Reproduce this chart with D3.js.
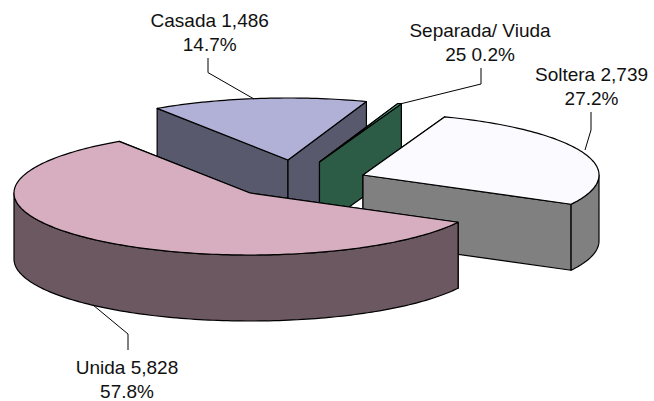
<!DOCTYPE html>
<html>
<head>
<meta charset="utf-8">
<script src="https://cdn.jsdelivr.net/npm/d3@7"></script>
<style>
  html, body { margin: 0; padding: 0; background: #fff; }
  svg { display: block; }
</style>
</head>
<body>
<div id="chart"></div>
<script>
// Values
const categories = ["Soltera", "Unida", "Casada", "Separada/ Viuda"];
const counts = [2739, 5828, 1486, 25];
const percents = ["27.2%", "57.8%", "14.7%", "0.2%"];

// Slice colours: top face, then the darker side walls
const topColors = ["#FBFAFF", "#D6AEC0", "#B1B1D8", "#66B899"];
const wallColors = ["#808080", "#6C5860", "#59596E", "#2D5C46"];

// Where each exploded slice has its apex
const apexes = [[363, 175], [250, 193], [288, 160], [319.5, 162]];

const width = 654;
const height = 401;
const rx = 236;
const ry = 62;
const depth = 66;
const startAngle = 20.3 * Math.PI / 180;

const svg = d3.select("#chart").append("svg")
    .attr("width", width)
    .attr("height", height);

const pie = d3.pie()
    .sort(null)
    .startAngle(startAngle)
    .endAngle(startAngle + 2 * Math.PI);

const arcs = pie(counts);

const line = d3.line();

function rimPoint(apex, a, drop) {
    return [apex[0] + rx * Math.sin(a), apex[1] - ry * Math.cos(a) + drop];
}

function arcPoints(apex, a0, a1, drop) {
    const n = Math.max(2, Math.ceil((a1 - a0) / 0.02));
    return d3.range(n + 1).map(i => rimPoint(apex, a0 + (a1 - a0) * i / n, drop));
}

// Back to front, so the big slice ends up over the others
const drawOrder = [2, 3, 0, 1];

drawOrder.forEach(i => {
    const d = arcs[i];
    const apex = apexes[i];
    const g = svg.append("g")
        .attr("stroke", "#000")
        .attr("stroke-width", 1.2)
        .attr("stroke-linejoin", "round");

    // radial walls
    [d.startAngle, d.endAngle].forEach(a => {
        const p = rimPoint(apex, a, 0);
        g.append("path")
            .attr("d", line([apex, p, [p[0], p[1] + depth], [apex[0], apex[1] + depth]]) + "Z")
            .attr("fill", wallColors[i]);
    });

    // curved wall, only the part that faces the viewer
    const halfTurns = [Math.PI / 2, 3 * Math.PI / 2];
    const a0 = Math.max(d.startAngle, halfTurns[0]);
    const a1 = Math.min(d.endAngle, halfTurns[1]);
    if (a1 > a0) {
        const upper = arcPoints(apex, a0, a1, 0);
        const lower = arcPoints(apex, a0, a1, depth).reverse();
        g.append("path")
            .attr("d", line(upper.concat(lower)) + "Z")
            .attr("fill", wallColors[i]);
    }

    // top face
    g.append("path")
        .attr("d", line([apex].concat(arcPoints(apex, d.startAngle, d.endAngle, 0))) + "Z")
        .attr("fill", topColors[i]);
});

// Leader lines
const leaders = [
    [[591, 112], [591, 130], [585, 150]],
    [[128, 350], [128, 334], [93, 305]],
    [[208, 58], [208, 72.6], [254, 99]],
    [[481, 68], [481, 84], [400, 104]]
];

svg.append("g")
    .selectAll("path")
    .data(leaders)
    .join("path")
    .attr("d", d => line(d))
    .attr("fill", "none")
    .attr("stroke", "#000")
    .attr("stroke-width", 1);

// Labels, two lines each
const labelRows = [
    [`${categories[0]} ${d3.format(",")(counts[0])}`, percents[0]],
    [`${categories[1]} ${d3.format(",")(counts[1])}`, percents[1]],
    [`${categories[2]} ${d3.format(",")(counts[2])}`, percents[2]],
    [categories[3], `${counts[3]} ${percents[3]}`]
];
const labelAnchors = [[591.5, 81], [127, 374], [209.7, 27], [480, 37]];

labelRows.forEach((rows, i) => {
    const t = svg.append("text")
        .attr("text-anchor", "middle")
        .style("font-family", "'Liberation Sans', Arial, sans-serif")
        .style("font-size", "19px")
        .style("fill", "#111");
    rows.forEach((row, j) => {
        t.append("tspan")
            .attr("x", labelAnchors[i][0])
            .attr("y", labelAnchors[i][1] + j * 24)
            .text(row);
    });
});
</script>
</body>
</html>
